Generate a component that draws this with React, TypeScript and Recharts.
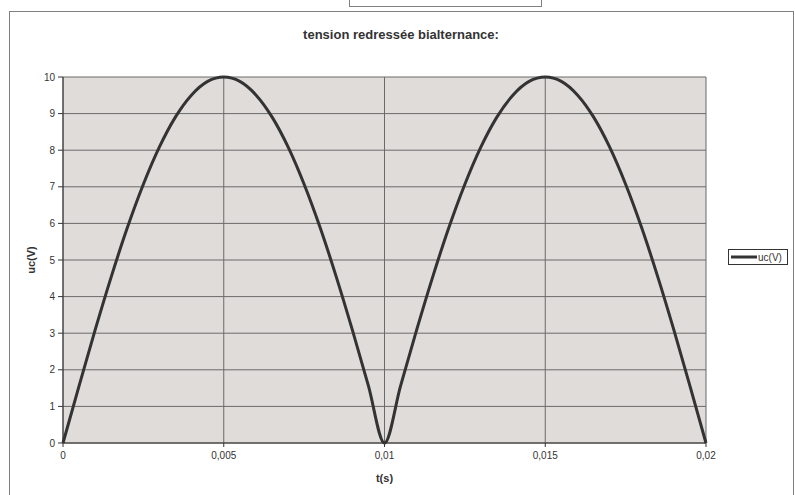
import React from "react";
import { LineChart, Line, XAxis, YAxis, CartesianGrid } from "recharts";

const times = [
  0, 0.0005, 0.001, 0.0015, 0.002, 0.0025, 0.003, 0.0035, 0.004, 0.0045, 0.005,
  0.0055, 0.006, 0.0065, 0.007, 0.0075, 0.008, 0.0085, 0.009, 0.0095, 0.01,
  0.0105, 0.011, 0.0115, 0.012, 0.0125, 0.013, 0.0135, 0.014, 0.0145, 0.015,
  0.0155, 0.016, 0.0165, 0.017, 0.0175, 0.018, 0.0185, 0.019, 0.0195, 0.02,
];
const ucValues = [
  0, 1.56, 3.09, 4.54, 5.88, 7.07, 8.09, 8.91, 9.51, 9.88, 10,
  9.88, 9.51, 8.91, 8.09, 7.07, 5.88, 4.54, 3.09, 1.56, 0,
  1.56, 3.09, 4.54, 5.88, 7.07, 8.09, 8.91, 9.51, 9.88, 10,
  9.88, 9.51, 8.91, 8.09, 7.07, 5.88, 4.54, 3.09, 1.56, 0,
];
const xTicks = [0, 0.005, 0.01, 0.015, 0.02];
const yTicks = [0, 1, 2, 3, 4, 5, 6, 7, 8, 9, 10];
const seriesName = "uc(V)";

const data = times.map((t, i) => ({ t, uc: ucValues[i] }));

const FONT = "'Liberation Sans', Arial, sans-serif";

const LegendBox = () => (
  <div
    style={{
      position: "absolute",
      left: 728,
      top: 249,
      border: "1px solid #333",
      width: 60,
      height: 16,
      background: "#fff",
      display: "flex",
      alignItems: "center",
      fontFamily: FONT,
      fontSize: 10,
      color: "#333",
      boxSizing: "border-box",
    }}
  >
    <svg width={27} height={14} style={{ marginLeft: 2 }}>
      <line x1={0} y1={7} x2={26} y2={7} stroke="#333" strokeWidth={3} />
    </svg>
    <span>{seriesName}</span>
  </div>
);

export default function App() {
  return (
    <div style={{ position: "absolute", left: 0, top: 0, width: 795, height: 495, overflow: "hidden", background: "#fff" }}>
      <div
        style={{
          position: "absolute",
          left: 9,
          top: 11,
          width: 785,
          height: 500,
          border: "1px solid #808080",
          boxSizing: "border-box",
        }}
      />
      <div
        style={{
          position: "absolute",
          left: 349,
          top: -10,
          width: 193,
          height: 17,
          border: "1px solid #808080",
          boxSizing: "border-box",
          background: "#fff",
        }}
      />
      <div
        style={{
          position: "absolute",
          left: 9,
          width: 784,
          top: 27,
          lineHeight: "16px",
          textAlign: "center",
          fontFamily: FONT,
          fontSize: 13,
          fontWeight: "bold",
          color: "#333",
        }}
      >
        tension redressée bialternance:
      </div>
      <div style={{ position: "absolute", left: 0, top: 0 }}>
        <LineChart
          width={795}
          height={495}
          data={data}
          margin={{ top: 77, right: 89, bottom: 22, left: 23 }}
        >
          <CartesianGrid
            fill="#E0DCDA"
            fillOpacity={1}
            stroke="#6a6a6a"
            strokeWidth={1}
          />
          <XAxis
            dataKey="t"
            type="number"
            domain={[0, 0.02]}
            ticks={xTicks}
            tickFormatter={(v: number) => String(v).replace(".", ",")}
            height={30}
            tickSize={4}
            tickMargin={5}
            axisLine={{ stroke: "#333", strokeWidth: 1 }}
            tickLine={{ stroke: "#333" }}
            tick={{ fill: "#333", fontSize: 10, fontFamily: FONT }}
            interval={0}
            label={{
              value: "t(s)",
              position: "insideBottom",
              offset: -9,
              style: { fill: "#333", fontSize: 11, fontWeight: "bold", fontFamily: FONT },
            }}
          />
          <YAxis
            type="number"
            domain={[0, 10]}
            ticks={yTicks}
            width={40}
            tickSize={5}
            tickMargin={3}
            interval={0}
            axisLine={{ stroke: "#333", strokeWidth: 1 }}
            tickLine={{ stroke: "#333" }}
            tick={{ fill: "#333", fontSize: 10, fontFamily: FONT }}
            label={{
              value: seriesName,
              angle: -90,
              position: "insideLeft",
              offset: 8,
              style: { fill: "#333", fontSize: 11, fontWeight: "bold", fontFamily: FONT, textAnchor: "middle" },
            }}
          />
          <Line
            type="monotone"
            dataKey="uc"
            name={seriesName}
            stroke="#333"
            strokeWidth={3}
            dot={false}
            isAnimationActive={false}
          />
        </LineChart>
      </div>
      <LegendBox />
    </div>
  );
}
